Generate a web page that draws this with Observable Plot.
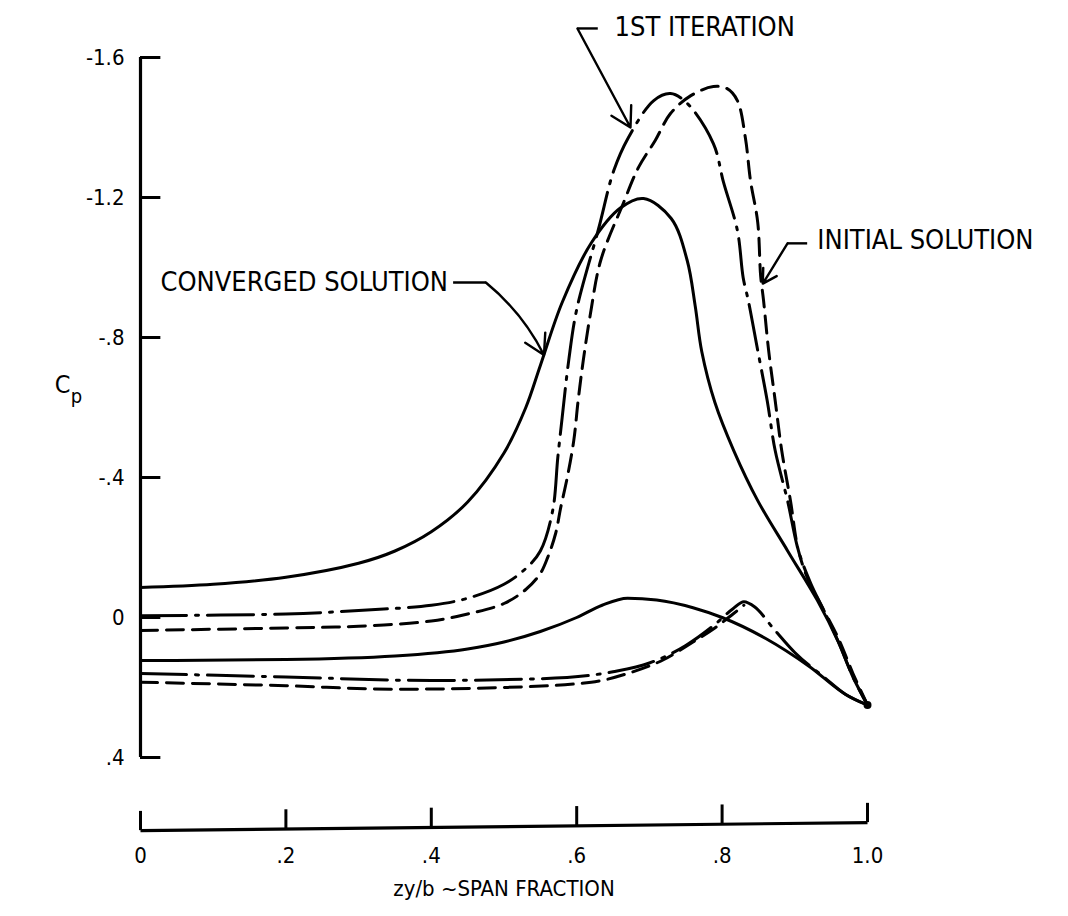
<!DOCTYPE html>
<html><head><meta charset="utf-8">
<script src="https://cdn.jsdelivr.net/npm/d3@7"></script>
<script src="https://cdn.jsdelivr.net/npm/@observablehq/plot@0.6"></script>
<style>
body{margin:0;background:#fff}
#chart svg{font-family:"DejaVu Sans Condensed","Liberation Sans Narrow","DejaVu Sans",sans-serif;font-stretch:condensed}
#chart g[aria-label="annotation"] text{letter-spacing:1.3px}
</style>
</head><body><div id="chart"></div>
<script>
// tick values and labels
const xTickValues = [0, 0.2, 0.4, 0.6, 0.8, 1.0];
const xTickLabels = ["0", ".2", ".4", ".6", ".8", "1.0"];
const yTickValues = [-1.6, -1.2, -0.8, -0.4, 0, 0.4];
const yTickLabels = ["-1.6", "-1.2", "-.8", "-.4", "0", ".4"];

// Converged solution (solid)
const convUpperX  = [0, 0.1, 0.2, 0.3, 0.35, 0.4, 0.45, 0.5, 0.53, 0.55, 0.58, 0.62, 0.66, 0.692, 0.73, 0.752, 0.763, 0.772, 0.79, 0.816, 0.849, 0.89, 0.931, 0.96, 0.98, 1.0];
const convUpperCp = [-0.086, -0.095, -0.115, -0.155, -0.19, -0.245, -0.33, -0.47, -0.6, -0.72, -0.9, -1.07, -1.17, -1.197, -1.14, -1.02, -0.89, -0.76, -0.615, -0.477, -0.334, -0.191, -0.049, 0.07, 0.17, 0.25];
const convLowerX  = [0, 0.2, 0.35, 0.45, 0.5, 0.55, 0.6, 0.635, 0.67, 0.71, 0.76, 0.8, 0.86, 0.92, 0.97, 1.0];
const convLowerCp = [0.123, 0.12, 0.11, 0.09, 0.07, 0.04, 0.0, -0.035, -0.055, -0.05, -0.028, 0.0, 0.06, 0.14, 0.22, 0.25];

// 1st iteration (dash-dot)
const iterUpperX  = [0, 0.2, 0.3, 0.4, 0.45, 0.5, 0.53, 0.55, 0.567, 0.574, 0.58, 0.589, 0.6, 0.63, 0.651, 0.671, 0.706, 0.729, 0.752, 0.788, 0.802, 0.821, 0.829, 0.836, 0.849, 0.862, 0.873, 0.89, 0.905, 0.922, 0.94, 0.96, 0.98, 1.0];
const iterUpperCp = [-0.005, -0.01, -0.02, -0.035, -0.055, -0.095, -0.14, -0.19, -0.306, -0.457, -0.571, -0.734, -0.88, -1.11, -1.277, -1.371, -1.477, -1.497, -1.469, -1.354, -1.243, -1.106, -0.971, -0.906, -0.763, -0.62, -0.477, -0.334, -0.191, -0.097, -0.02, 0.07, 0.17, 0.25];
const iterLowerX  = [0, 0.2, 0.4, 0.55, 0.65, 0.7, 0.75, 0.79, 0.815, 0.83, 0.845, 0.87, 0.9, 0.94, 0.97, 1.0];
const iterLowerCp = [0.16, 0.17, 0.18, 0.175, 0.155, 0.13, 0.08, 0.02, -0.025, -0.045, -0.03, 0.03, 0.1, 0.17, 0.22, 0.25];

// Initial solution (dashed)
const initUpperX  = [0, 0.2, 0.3, 0.4, 0.45, 0.5, 0.53, 0.55, 0.56, 0.571, 0.578, 0.587, 0.596, 0.602, 0.609, 0.619, 0.633, 0.664, 0.685, 0.708, 0.729, 0.757, 0.788, 0.807, 0.821, 0.832, 0.839, 0.849, 0.853, 0.857, 0.864, 0.873, 0.882, 0.894, 0.905, 0.92, 0.935, 0.96, 0.98, 1.0];
const initUpperCp = [0.037, 0.03, 0.025, 0.01, -0.01, -0.04, -0.08, -0.126, -0.171, -0.24, -0.314, -0.4, -0.506, -0.62, -0.734, -0.869, -1.02, -1.183, -1.286, -1.363, -1.44, -1.491, -1.517, -1.511, -1.477, -1.371, -1.249, -1.129, -0.977, -0.906, -0.763, -0.62, -0.477, -0.334, -0.191, -0.1, -0.04, 0.06, 0.16, 0.25];
const initLowerX  = [0, 0.2, 0.35, 0.5, 0.62, 0.67, 0.72, 0.76, 0.79, 0.815, 0.83];
const initLowerCp = [0.185, 0.195, 0.205, 0.2, 0.185, 0.16, 0.12, 0.07, 0.03, -0.01, -0.035];

const trailingEdgeX = [1.0];
const trailingEdgeCp = [0.25];

const toRows = (xs, ys) => xs.map((x, i) => ({x, cp: ys[i]}));

const FONT = "'DejaVu Sans Condensed','Liberation Sans Narrow','DejaVu Sans',sans-serif";
const solid = {stroke: "#000", strokeWidth: 3, curve: "catmull-rom"};
const solidSmooth = {...solid, curve: "monotone-x"};
const dashDot = {...solid, strokeDasharray: "46,9,3,9"};
const dashed = {...solid, strokeDasharray: "17,9"};

const xAxisLevel = 0.609;   // x-axis baseline drawn below the Cp frame
const xAxisLevelRight = 0.586;
const tickFont = {fontSize: 22, fontFamily: FONT};
const annFont = {fontSize: 27, fontFamily: FONT, ariaLabel: "annotation"};

const chart = Plot.plot({
  width: 1068,
  height: 916,
  x: {domain: [0, 1], range: [140, 867], axis: null},
  y: {domain: [-1.6, 0.4], range: [57, 757], axis: null},
  marks: [
    // y axis
    Plot.ruleX([0], {y1: -1.6, y2: 0.4, strokeWidth: 3.2}),
    Plot.ruleY(yTickValues, {x1: 0, x2: 0.028, strokeWidth: 3}),
    Plot.text(yTickValues, {x: 0, y: d => d, text: (d, i) => yTickLabels[i], textAnchor: "end", dx: -16, ...tickFont}),
    // x axis (drawn below, slightly tilted like the original)
    Plot.link([0], {x1: 0, y1: xAxisLevel, x2: 1, y2: xAxisLevelRight, strokeWidth: 3.2}),
    Plot.ruleX(xTickValues, {x: d => d, y1: d => xAxisLevel + (xAxisLevelRight - xAxisLevel) * d, y2: d => xAxisLevel + (xAxisLevelRight - xAxisLevel) * d - 0.055, strokeWidth: 3}),
    Plot.text(xTickValues, {x: d => d, y: xAxisLevel, text: (d, i) => xTickLabels[i], dy: 25, ...tickFont}),
    Plot.text(["zy/b ~SPAN FRACTION"], {x: 0.5, y: xAxisLevel, dy: 58, text: d => d, ...tickFont}),
    // Cp label
    Plot.text(["C"], {x: -0.107, y: -0.663, text: d => d, fontSize: 25, fontFamily: FONT}),
    Plot.text(["p"], {x: -0.088, y: -0.631, text: d => d, fontSize: 20, fontFamily: FONT}),
    // curves
    Plot.line(toRows(initUpperX, initUpperCp), {x: "x", y: "cp", ...dashed}),
    Plot.line(toRows(initLowerX, initLowerCp), {x: "x", y: "cp", ...dashed, curve: "monotone-x"}),
    Plot.line(toRows(iterUpperX, iterUpperCp), {x: "x", y: "cp", ...dashDot}),
    Plot.line(toRows(iterLowerX, iterLowerCp), {x: "x", y: "cp", ...dashDot, curve: "monotone-x"}),
    Plot.line(toRows(convUpperX, convUpperCp), {x: "x", y: "cp", ...solid}),
    Plot.line(toRows(convLowerX, convLowerCp), {x: "x", y: "cp", ...solidSmooth}),
    Plot.dot(toRows(trailingEdgeX, trailingEdgeCp), {x: "x", y: "cp", r: 4, fill: "#000"}),
    // annotations
    Plot.text(["1ST ITERATION"], {x: 0.652, y: -1.686, text: d => d, textAnchor: "start", ...annFont}),
    Plot.link([0], {x1: 0.601, y1: -1.683, x2: 0.629, y2: -1.683, strokeWidth: 2.4}),
    Plot.arrow([0], {x1: 0.601, y1: -1.683, x2: 0.674, y2: -1.40, strokeWidth: 2.4, headLength: 14}),
    Plot.text(["INITIAL SOLUTION"], {x: 0.931, y: -1.077, text: d => d, textAnchor: "start", ...annFont}),
    Plot.link([0], {x1: 0.89, y1: -1.069, x2: 0.917, y2: -1.069, strokeWidth: 2.4}),
    Plot.arrow([0], {x1: 0.89, y1: -1.069, x2: 0.856, y2: -0.954, strokeWidth: 2.4, headLength: 14}),
    Plot.text(["CONVERGED SOLUTION"], {x: 0.0275, y: -0.957, text: d => d, textAnchor: "start", ...annFont}),
    Plot.link([0], {x1: 0.43, y1: -0.957, x2: 0.475, y2: -0.957, strokeWidth: 2.4}),
    Plot.arrow([0], {x1: 0.475, y1: -0.957, x2: 0.555, y2: -0.75, strokeWidth: 2.4, headLength: 14, bend: 12})
  ]
});
document.getElementById("chart").appendChild(chart);
</script>
</body></html>
